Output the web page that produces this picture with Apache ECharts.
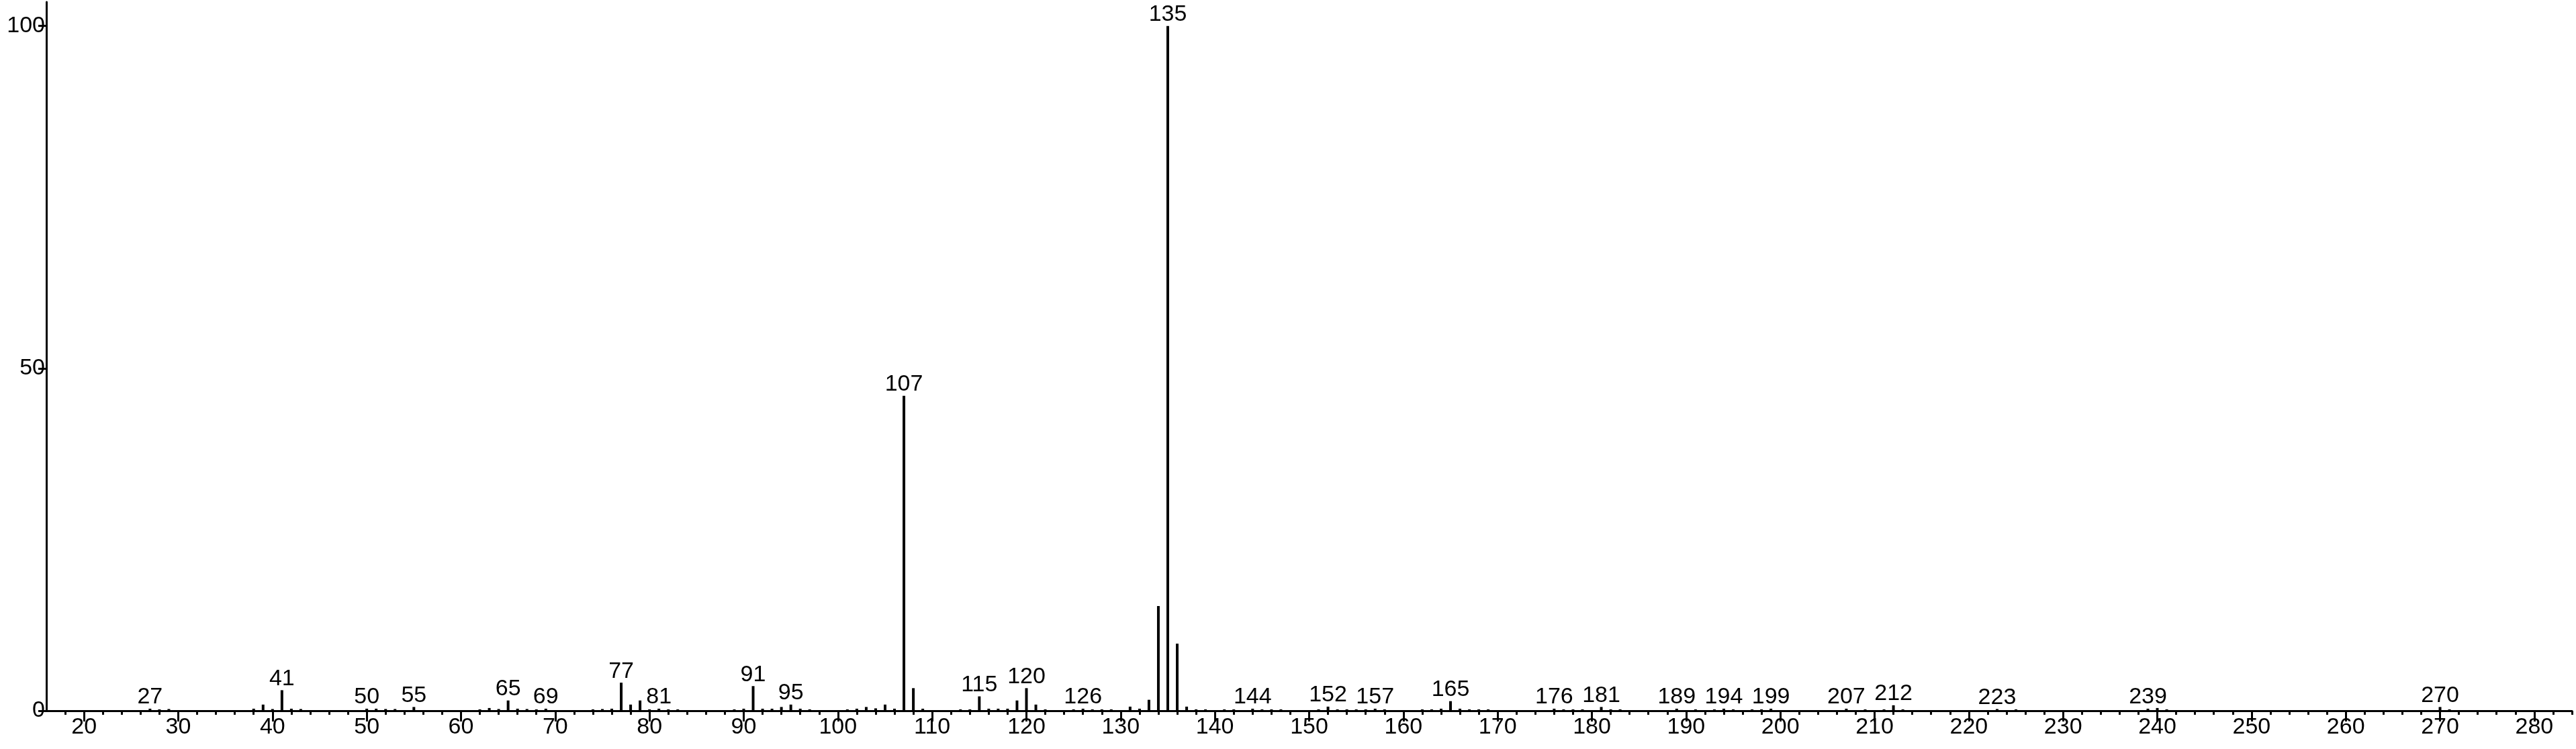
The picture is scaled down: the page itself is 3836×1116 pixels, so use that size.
<!DOCTYPE html>
<html><head><meta charset="utf-8">
<script src="https://cdn.jsdelivr.net/npm/echarts@6/dist/echarts.min.js"></script>
<style>html,body{margin:0;padding:0;background:#fff}#c{width:3836px;height:1116px}</style>
</head><body><div id="c"></div>
<script>
// m/z values of the peaks
const mzValues = [27,28,29,38,39,40,41,42,43,50,51,52,53,55,62,63,64,65,66,67,68,69,74,75,76,77,78,79,80,81,82,83,89,90,91,92,93,94,95,96,97,101,102,103,104,105,106,107,108,109,113,114,115,116,117,118,119,120,121,122,125,126,127,128,129,131,132,133,134,135,136,137,138,139,141,142,144,145,146,147,151,152,153,154,155,156,157,158,162,163,164,165,166,167,168,169,176,177,178,179,181,182,183,189,191,193,194,195,197,198,199,207,209,211,212,213,223,225,239,240,241,270,271];
// relative intensities (%)
const intensities = [0.3,0.2,0.25,0.3,0.9,0.25,3.0,0.3,0.25,0.3,0.3,0.25,0.25,0.55,0.2,0.4,0.25,1.5,0.3,0.25,0.2,0.3,0.2,0.25,0.3,4.1,0.9,1.5,0.2,0.3,0.2,0.2,0.2,0.3,3.6,0.3,0.3,0.55,0.9,0.3,0.2,0.2,0.3,0.55,0.35,0.9,0.3,46,3.3,0.3,0.2,0.2,2.1,0.3,0.3,0.3,1.5,3.3,0.9,0.2,0.2,0.3,0.2,0.2,0.2,0.6,0.3,1.6,15.3,100,9.8,0.6,0.2,0.2,0.2,0.2,0.3,0.2,0.2,0.2,0.2,0.6,0.2,0.2,0.2,0.2,0.3,0.2,0.2,0.2,0.3,1.4,0.3,0.2,0.2,0.2,0.3,0.2,0.2,0.2,0.55,0.2,0.2,0.3,0.2,0.2,0.3,0.2,0.2,0.2,0.3,0.3,0.2,0.2,0.8,0.2,0.25,0.2,0.3,0.4,0.2,0.55,0.2];
// peaks that carry an m/z label
const labeledPeaks = [27,41,50,55,65,69,77,81,91,95,107,115,120,126,135,144,152,157,165,176,181,189,194,199,207,212,223,239,270];
// axis ticks
const xMajorTicks = [20,30,40,50,60,70,80,90,100,110,120,130,140,150,160,170,180,190,200,210,220,230,240,250,260,270,280];
const xMinorTicks = [18,22,24,26,28,32,34,36,38,42,44,46,48,52,54,56,58,62,64,66,68,72,74,76,78,82,84,86,88,92,94,96,98,102,104,106,108,112,114,116,118,122,124,126,128,132,134,136,138,142,144,146,148,152,154,156,158,162,164,166,168,172,174,176,178,182,184,186,188,192,194,196,198,202,204,206,208,212,214,216,218,222,224,226,228,232,234,236,238,242,244,246,248,252,254,256,258,262,264,266,268,272,274,276,278,282,284];
const yTicks = [0,50,100];

const FONT = 'Liberation Sans, Arial, sans-serif';
const FS = 34;

const data = mzValues.map((m, i) => ({
  value: [m, intensities[i]],
  label: { show: labeledPeaks.includes(m) }
}));

const chart = echarts.init(document.getElementById('c'), null, { renderer: 'canvas' });
chart.setOption({
  animation: false,
  backgroundColor: '#fff',
  grid: { left: 69, right: 6, top: 3, bottom: 57, containLabel: false },
  xAxis: [{
    type: 'value', min: 16, max: 284, position: 'bottom',
    axisLine: { show: true, onZero: false, lineStyle: { color: '#000', width: 3 } },
    axisTick: { show: true, customValues: xMajorTicks, length: 16, lineStyle: { color: '#000', width: 3 } },
    axisLabel: { show: true, customValues: xMajorTicks, color: '#000', fontSize: FS, fontFamily: FONT, margin: 8 },
    splitLine: { show: false }
  }, {
    type: 'value', min: 16, max: 284, position: 'bottom', offset: 0,
    axisLine: { show: false },
    axisTick: { show: true, customValues: xMinorTicks, length: 6, lineStyle: { color: '#000', width: 3 } },
    axisLabel: { show: false },
    splitLine: { show: false }
  }],
  yAxis: {
    type: 'value', min: 0, max: 103.5,
    axisLine: { show: true, lineStyle: { color: '#000', width: 3 } },
    axisTick: { show: true, customValues: yTicks, length: 12, lineStyle: { color: '#000', width: 3 } },
    axisLabel: { show: true, customValues: yTicks, color: '#000', fontSize: FS, fontFamily: FONT, margin: 2 },
    splitLine: { show: false }
  },
  series: [{
    type: 'bar',
    xAxisIndex: 0,
    barWidth: 4,
    itemStyle: { color: '#000' },
    label: {
      position: 'top', distance: 0, color: '#000', fontSize: FS, fontFamily: FONT,
      formatter: p => String(p.value[0])
    },
    data: data
  }]
});
</script>
</body></html>
